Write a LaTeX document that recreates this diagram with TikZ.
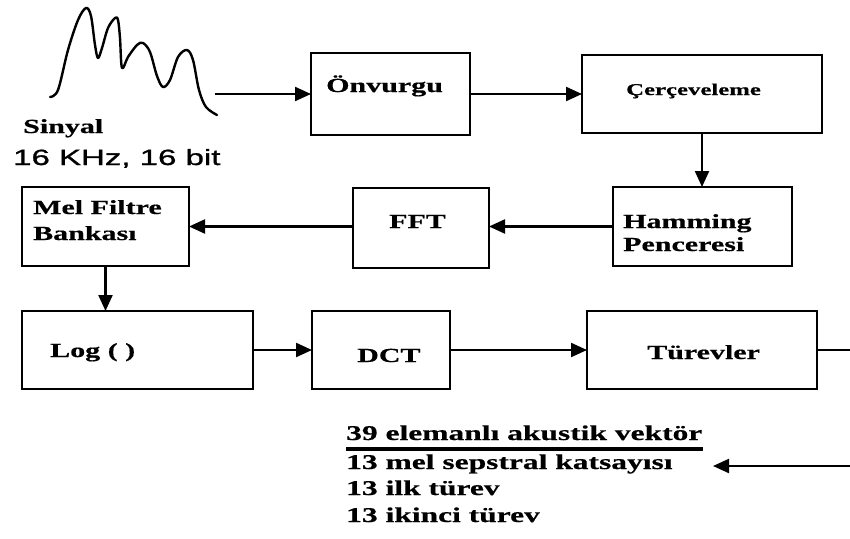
\documentclass[tikz,border=0pt]{standalone}
\usepackage{fontspec}
\usetikzlibrary{arrows.meta}
\newfontfamily\wserif{Liberation Serif}[FakeStretch=1.5,FakeBold=0.6]
\newfontfamily\wsans{Liberation Sans}[FakeStretch=1.5,FakeBold=1.2]
\begin{document}
\begin{tikzpicture}[x=1pt,y=-1pt,
  box/.style={draw, line width=2.4pt, inner sep=0pt, outer sep=0pt, anchor=north west},
  lbl/.style={anchor=base west, inner sep=0pt, font=\wserif\bfseries\fontsize{20}{24}\selectfont},
  big/.style={anchor=base west, inner sep=0pt, font=\wserif\bfseries\fontsize{21}{25}\selectfont},
  conn/.style={line width=2.2pt, -{Triangle[length=16pt,width=14pt]}},
  plain/.style={line width=2.2pt}
]
\useasboundingbox (0,0) rectangle (850,538);

% signal waveform
\draw[line width=2.4pt, line cap=round, line join=round]
  plot[smooth, tension=0.55] coordinates {
  (50,97) (58,90) (68,50) (78,20) (86,8) (91,16) (95,45) (98,58) (102,48) (108,28)
  (115,18) (118,20) (120,38) (122,68) (128,57) (137,45) (143,43) (150,52)
  (157,76) (163,87) (170,80) (178,57) (187,50) (193,60) (199,90) (206,107) (217,115)};
\node[lbl] (sinyal) at (23,133) {Sinyal};
\node[anchor=base west, inner sep=0pt, font=\wsans\fontsize{22}{26}\selectfont] (khz) at (13,165) {16 KHz, 16 bit};

% boxes
\node[box, minimum width=159pt, minimum height=82pt] (onv) at (311,53) {};
\node[box, minimum width=240pt, minimum height=78pt] (cer) at (582,55) {};
\node[box, minimum width=167pt, minimum height=79pt] (mel) at (22,187) {};
\node[box, minimum width=136pt, minimum height=80pt] (fft) at (353,188) {};
\node[box, minimum width=179pt, minimum height=79pt] (ham) at (613,187) {};
\node[box, minimum width=231pt, minimum height=78pt] (log) at (22,311) {};
\node[box, minimum width=138pt, minimum height=78pt] (dct) at (312,311) {};
\node[box, minimum width=230pt, minimum height=78pt] (tur) at (587,311) {};

% labels
\node[lbl] (tonv) at (326,92) {Önvurgu};
\node[lbl, font=\wserif\bfseries\fontsize{16.5}{20}\selectfont] (tcer) at (626,95) {Çerçeveleme};
\node[lbl] (tmel1) at (33,214) {Mel Filtre};
\node[lbl] (tmel2) at (33,240) {Bankası};
\node[lbl] (tfft) at (389,228) {FFT};
\node[lbl] (tham1) at (623,228) {Hamming};
\node[lbl] (tham2) at (623,251) {Penceresi};
\node[lbl] (tlog) at (50,357) {Log ( )};
\node[lbl] (tdct) at (357,362) {DCT};
\node[lbl] (ttur) at (647,359) {Türevler};

% bottom text
\node[big] (vec) at (346,440) {39 elemanlı akustik vektör};
\draw[line width=4pt] ([yshift=-9pt]vec.base west) -- ([yshift=-9pt]vec.base east);
\node[big] (l1) at (346,469) {13 mel sepstral katsayısı};
\node[big] (l2) at (346,495) {13 ilk türev};
\node[big] (l3) at (346,522) {13 ikinci türev};

% connectors
\coordinate (sigend) at (215,94);
\draw[conn] (sigend) -- (sigend -| onv.west);
\draw[conn] (onv.east) -- (onv.east -| cer.west);
\draw[conn] (cer.south) -- (cer.south |- ham.north);
\draw[conn] (ham.west) -- (ham.west -| fft.east);
\draw[conn] (fft.west |- ham.west) -- (ham.west -| mel.east);
\draw[conn] (mel.south) -- (mel.south |- log.north);
\draw[conn] (log.east) -- (log.east -| dct.west);
\draw[conn] (dct.east) -- (dct.east -| tur.west);
\coordinate (redge) at (850,350);
\draw[plain] (tur.east) -- (redge);
\coordinate (bedge) at (850,466);
\coordinate (btip) at (713,466);
\draw[conn] (bedge) -- (btip);
\end{tikzpicture}
\end{document}
